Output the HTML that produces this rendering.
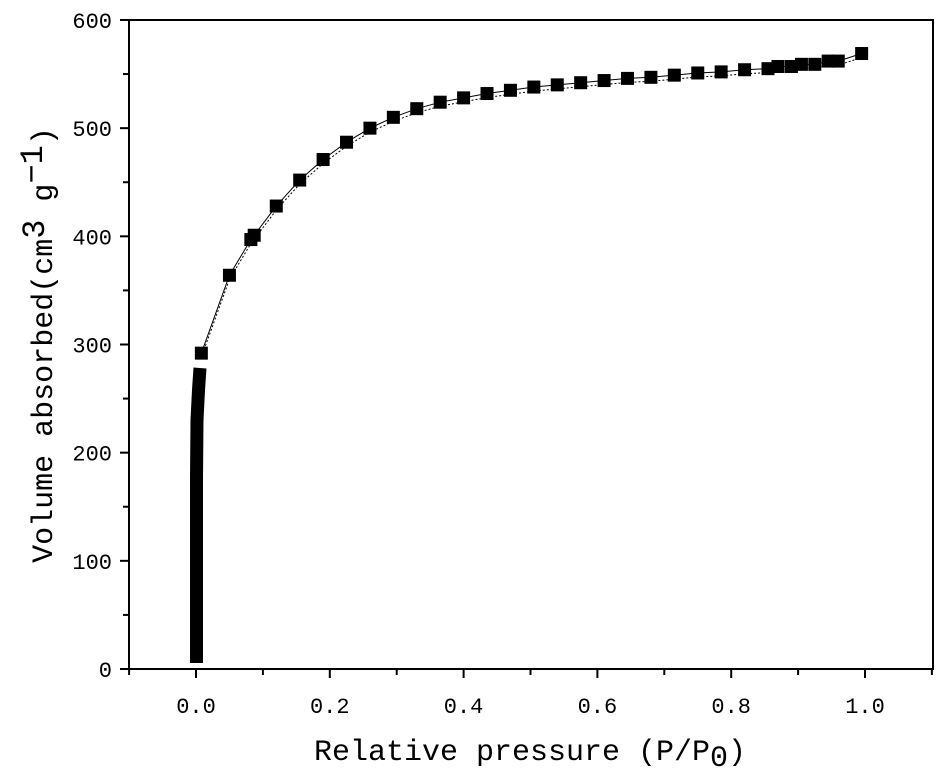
<!DOCTYPE html>
<html><head><meta charset="utf-8"><style>body{margin:0;background:#fff}svg{display:block}</style></head><body>
<svg id="s" width="947" height="782" xmlns="http://www.w3.org/2000/svg" font-family="'Liberation Mono','DejaVu Sans Mono',monospace">
<rect width="947" height="782" fill="#fff"/>
<rect x="129" y="20" width="804" height="649" fill="none" stroke="#000" stroke-width="2"/>
<g id="ax" stroke="#000" stroke-width="2"></g>
<g font-size="22" fill="#000" id="lab"></g>
<text x="530" y="760" font-size="30" text-anchor="middle">Relative pressure (P/P<tspan font-size="30" dy="6">0</tspan><tspan dy="-6">)</tspan></text>
<text transform="translate(52,345) rotate(-90)" font-size="30" text-anchor="middle">Volume absorbed(cm<tspan font-size="32" dy="-8">3</tspan><tspan dy="8"> g</tspan><tspan dy="-10" font-size="32">−1</tspan><tspan dy="10">)</tspan></text>
<path d="M196.5,663 L196.5,480 L197,420 L198.5,390 L200,368" stroke="#000" stroke-width="13" fill="none"/>
<g id="pts"></g>
</svg>
<script>
var ns="http://www.w3.org/2000/svg",ax=document.getElementById('ax'),lab=document.getElementById('lab'),pts=document.getElementById('pts');
function X(x){return 196+669*x}function Y(y){return 669-1.0817*y}
function L(x1,y1,x2,y2,p){var l=document.createElementNS(ns,'line');l.setAttribute('x1',x1);l.setAttribute('y1',y1);l.setAttribute('x2',x2);l.setAttribute('y2',y2);p.appendChild(l)}
function T(x,y,t,a){var e=document.createElementNS(ns,'text');e.setAttribute('x',x);e.setAttribute('y',y);e.setAttribute('text-anchor',a);e.textContent=t;lab.appendChild(e)}
for(var i=0;i<=12;i++){var y=Y(i*50);L(129,y,i%2?123:120,y,ax);if(i%2==0)T(112,y+8,String(i*50),'end')}
for(var i=-1;i<=11;i++){var x=X(i/10);L(x,669,x,i%2?675:678,ax);if(i%2==0&&i>=0)T(x,713,(i/10).toFixed(1),'middle')}
var d=[[0.008,292],[0.05,364],[0.082,397],[0.087,401],[0.12,428],[0.155,452],[0.19,471],[0.225,487],[0.26,500],[0.295,510],[0.33,518],[0.365,524],[0.4,528],[0.435,532],[0.47,535],[0.505,538],[0.54,540],[0.575,542],[0.61,544],[0.645,546],[0.68,547],[0.715,549],[0.75,551],[0.785,552],[0.82,554],[0.855,555],[0.87,557],[0.89,557],[0.905,559],[0.925,559],[0.945,562],[0.96,562],[0.995,569]];
var p='';d.forEach(function(q,i){p+=(i?'L':'M')+X(q[0])+','+Y(q[1])});
var pl=document.createElementNS(ns,'path');pl.setAttribute('d',p);pl.setAttribute('stroke','#000');pl.setAttribute('fill','none');pts.appendChild(pl);
var pl2=document.createElementNS(ns,'path');pl2.setAttribute('d',p);pl2.setAttribute('stroke','#000');pl2.setAttribute('fill','none');pl2.setAttribute('stroke-dasharray','2,2');pl2.setAttribute('transform','translate(0,4)');pts.appendChild(pl2);
d.forEach(function(q){var r=document.createElementNS(ns,'rect');r.setAttribute('x',X(q[0])-6.5);r.setAttribute('y',Y(q[1])-6.5);r.setAttribute('width',13);r.setAttribute('height',13);pts.appendChild(r)});
</script>
</body></html>
